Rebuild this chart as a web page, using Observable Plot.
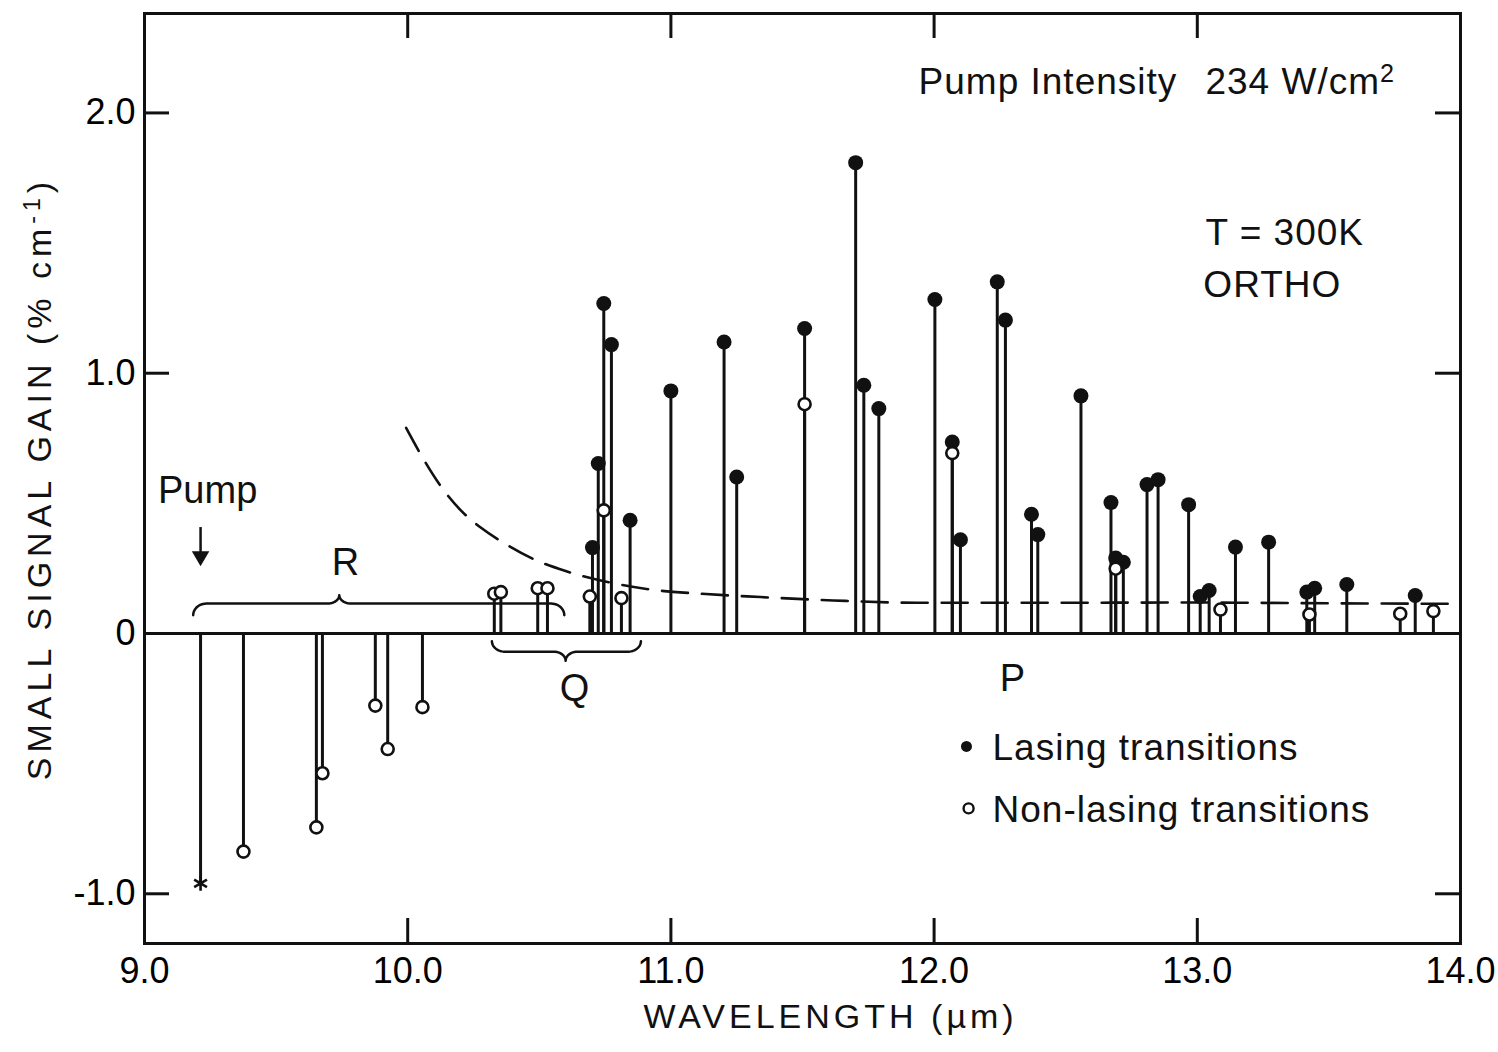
<!DOCTYPE html>
<html><head><meta charset="utf-8">
<script src="https://cdn.jsdelivr.net/npm/d3@7"></script>
<script src="https://cdn.jsdelivr.net/npm/@observablehq/plot@0.6"></script>
<style>
body{margin:0;background:#fff;}
.ylab text{letter-spacing:5px;}
.xlab text{letter-spacing:4px;}
.note text{letter-spacing:1px;}
</style></head><body><div id="chart"></div>
<script>
// Lasing transitions (filled dots): wavelength (µm) and small-signal gain (% cm^-1)
const lasingWavelength = [10.702,10.724,10.745,10.774,10.845,11.000,11.202,11.250,11.508,11.702,11.733,11.790,
  12.003,12.069,12.100,12.240,12.271,12.370,12.394,12.558,12.672,12.690,12.719,12.809,12.851,12.967,
  13.011,13.045,13.145,13.271,13.416,13.446,13.568,13.828];
const lasingGain = [0.33,0.653,1.268,1.11,0.435,0.932,1.12,0.601,1.172,1.809,0.954,0.864,
  1.283,0.736,0.36,1.351,1.204,0.458,0.38,0.913,0.503,0.29,0.274,0.572,0.591,0.495,
  0.142,0.165,0.332,0.351,0.159,0.174,0.188,0.146];
// Non-lasing transitions (open circles)
const nonLasingWavelength = [9.376,9.653,9.676,9.877,9.924,10.056,
  10.329,10.354,10.494,10.531,10.692,10.745,10.812,11.508,12.069,12.690,13.088,13.426,13.771,13.897];
const nonLasingGain = [-0.838,-0.745,-0.537,-0.277,-0.444,-0.283,
  0.153,0.159,0.174,0.174,0.142,0.473,0.136,0.881,0.693,0.249,0.092,0.073,0.076,0.086];
// Pump line
const pumpWavelength = [9.213];
const pumpGain = [-0.96];
// Dashed threshold curve
const thresholdWavelength = [9.994,10.06,10.13,10.2,10.28,10.37,10.48,10.6,10.75,10.93,11.11,11.34,11.617,11.936,12.4,12.96,13.5,13.99];
const thresholdGain = [0.79,0.67,0.56,0.475,0.405,0.345,0.285,0.24,0.2,0.168,0.153,0.14,0.127,0.118,0.118,0.119,0.116,0.114];
// Axis ticks
const xTickValues = [9,10,11,12,13,14];
const yTickValues = [-1,0,1,2];
const innerXTicks = [10,11,12,13];
const innerYTicks = [-1,1,2];
// Branch braces: name, start, end, tip
const braceName = ["R","Q"];
const braceStart = [9.185,10.32];
const braceEnd = [10.595,10.886];
const braceTip = [9.74,10.60];
const braceEndGain = [0.07,-0.03];
const braceBodyGain = [0.115,-0.07];
const braceTipGain = [0.147,-0.105];

const W=1498,H=1052,mL=144,mR=38,mT=13,mB=109;
const xDom=[9,14], yDom=[-1.191,2.382];
const xPx=(W-mL-mR)/(xDom[1]-xDom[0]);
const yPx=(H-mT-mB)/(yDom[1]-yDom[0]);
const tickLen=25;

const lasing = lasingWavelength.map((x,i)=>({x, y:lasingGain[i]}));
const nonLasing = nonLasingWavelength.map((x,i)=>({x, y:nonLasingGain[i]}));
const pump = pumpWavelength.map((x,i)=>({x, y:pumpGain[i]}));
const threshold = thresholdWavelength.map((x,i)=>({x, y:thresholdGain[i]}));

function bracePath(name,x1,x2,xt,ye,yb,yt){
  const rx=0.05, rt=0.045, n=12, pts=[];
  for(let i=0;i<=n;i++){const t=i/n*Math.PI/2; pts.push({name,x:x1+rx*(1-Math.cos(t)), y:ye+(yb-ye)*Math.sin(t)});}
  for(let i=0;i<=n;i++){const t=i/n*Math.PI/2; pts.push({name,x:xt-rt+rt*Math.sin(t), y:yb+(yt-yb)*(1-Math.cos(t))});}
  for(let i=n;i>=0;i--){const t=i/n*Math.PI/2; pts.push({name,x:xt+rt-rt*Math.sin(t), y:yb+(yt-yb)*(1-Math.cos(t))});}
  for(let i=n;i>=0;i--){const t=i/n*Math.PI/2; pts.push({name,x:x2-rx*(1-Math.cos(t)), y:ye+(yb-ye)*Math.sin(t)});}
  return pts;
}
const braces = braceName.flatMap((nm,i)=>bracePath(nm,braceStart[i],braceEnd[i],braceTip[i],braceEndGain[i],braceBodyGain[i],braceTipGain[i]));

// Annotations
const labels = [
  {text:"Pump", x:9.24, y:0.549, anchor:"middle"},
  {text:"R", x:9.764, y:0.273, anchor:"middle"},
  {text:"Q", x:10.634, y:-0.211, anchor:"middle"},
  {text:"P", x:12.298, y:-0.173, anchor:"middle"},
  {text:"Pump Intensity", x:11.941, y:2.117, anchor:"start"},
  {text:"234 W/cm²", x:13.031, y:2.117, anchor:"start"},
  {text:"T = 300K", x:13.031, y:1.537, anchor:"start"},
  {text:"ORTHO", x:13.023, y:1.337, anchor:"start"},
  {text:"Lasing transitions", x:12.222, y:-0.442, anchor:"start"},
  {text:"Non-lasing transitions", x:12.222, y:-0.68, anchor:"start"}
];
const legendFilled = [{x:12.123, y:-0.434}];
const legendOpen = [{x:12.131, y:-0.672}];
const pumpArrow = [{x:9.213, y1:0.407, y2:0.31, head:0.297}];

const font = "Liberation Sans, Arial, sans-serif";
const chart = Plot.plot({
  width:W, height:H, marginLeft:mL, marginRight:mR, marginTop:mT, marginBottom:mB,
  x:{domain:xDom}, y:{domain:yDom},
  style:{fontFamily:font, color:"#000", background:"#fff"},
  marks:[
    Plot.ruleY([0],{stroke:"#111", strokeWidth:3}),
    Plot.line(threshold,{x:"x", y:"y", curve:"monotone-x", stroke:"#111", strokeWidth:2.6, strokeDasharray:"26,14"}),
    Plot.line(braces,{x:"x", y:"y", z:"name", stroke:"#111", strokeWidth:2.5}),
    Plot.ruleX(lasing,{x:"x", y1:0, y2:"y", stroke:"#111", strokeWidth:3}),
    Plot.ruleX(nonLasing,{x:"x", y1:0, y2:"y", stroke:"#111", strokeWidth:3}),
    Plot.ruleX(pump,{x:"x", y1:0, y2:"y", stroke:"#111", strokeWidth:3}),
    Plot.dot(lasing,{x:"x", y:"y", r:7.5, fill:"#111"}),
    Plot.dot(nonLasing,{x:"x", y:"y", r:6, fill:"#fff", stroke:"#111", strokeWidth:2.6}),
    Plot.dot(pump,{x:"x", y:"y", r:7, symbol:"asterisk", stroke:"#111", strokeWidth:2.6}),
    Plot.ruleX(pumpArrow,{x:"x", y1:"y1", y2:"y2", stroke:"#111", strokeWidth:2.5}),
    Plot.dot(pumpArrow,{x:"x", y:"head", symbol:"triangle", r:6.5, fill:"#111", rotate:180}),
    Plot.dot(legendFilled,{x:"x", y:"y", r:5.5, fill:"#111"}),
    Plot.dot(legendOpen,{x:"x", y:"y", r:5, fill:"#fff", stroke:"#111", strokeWidth:2.4}),
    Plot.text(labels.filter(d=>d.anchor==="middle"),{x:"x", y:"y", text:"text", fontSize:38, textAnchor:"middle", fill:"#111"}),
    Plot.text(labels.filter(d=>d.anchor==="start"),{x:"x", y:"y", text:"text", fontSize:37, textAnchor:"start", fill:"#111", className:"note"}),
    // inward ticks
    Plot.ruleX(innerXTicks,{x:d=>d, y1:yDom[0], y2:yDom[0]+tickLen/yPx, stroke:"#111", strokeWidth:3}),
    Plot.ruleX(innerXTicks,{x:d=>d, y1:yDom[1], y2:yDom[1]-tickLen/yPx, stroke:"#111", strokeWidth:3}),
    Plot.ruleY(innerYTicks,{y:d=>d, x1:xDom[0], x2:xDom[0]+tickLen/xPx, stroke:"#111", strokeWidth:3}),
    Plot.ruleY(innerYTicks,{y:d=>d, x1:xDom[1], x2:xDom[1]-tickLen/xPx, stroke:"#111", strokeWidth:3}),
    Plot.frame({stroke:"#111", strokeWidth:3}),
    Plot.axisX({ticks:xTickValues, tickSize:0, tickPadding:14, tickFormat:d=>d.toFixed(1), fontSize:36, label:null}),
    Plot.axisY({ticks:yTickValues, tickSize:0, tickPadding:9, tickFormat:d=>d===0?"0":(d<0?"-":"")+Math.abs(d).toFixed(1), fontSize:36, label:null}),
    Plot.text(["WAVELENGTH (µm)"],{frameAnchor:"bottom", dy:84, dx:28, fontSize:34, className:"xlab", fill:"#111"}),
    Plot.text(["SMALL SIGNAL GAIN (% cm⁻¹)"],{frameAnchor:"left", textAnchor:"middle", dx:-104, rotate:-90, fontSize:34, className:"ylab", fill:"#111"})
  ]
});
// real superscripts
function superscript(full, base, sup, tail){
  chart.querySelectorAll("text").forEach(t=>{
    if (t.textContent === full){
      t.textContent = base;
      const s = document.createElementNS("http://www.w3.org/2000/svg","tspan");
      s.setAttribute("dy","-0.5em"); s.setAttribute("font-size","0.68em"); s.textContent = sup; t.appendChild(s);
      if (tail){ const r = document.createElementNS("http://www.w3.org/2000/svg","tspan");
        r.setAttribute("dy","0.34em"); r.setAttribute("font-size","1em"); r.textContent = tail; t.appendChild(r); }
    }
  });
}
superscript("234 W/cm²","234 W/cm","2");
superscript("SMALL SIGNAL GAIN (% cm⁻¹)","SMALL SIGNAL GAIN (% cm","-1",")");
document.getElementById("chart").appendChild(chart);
</script></body></html>
